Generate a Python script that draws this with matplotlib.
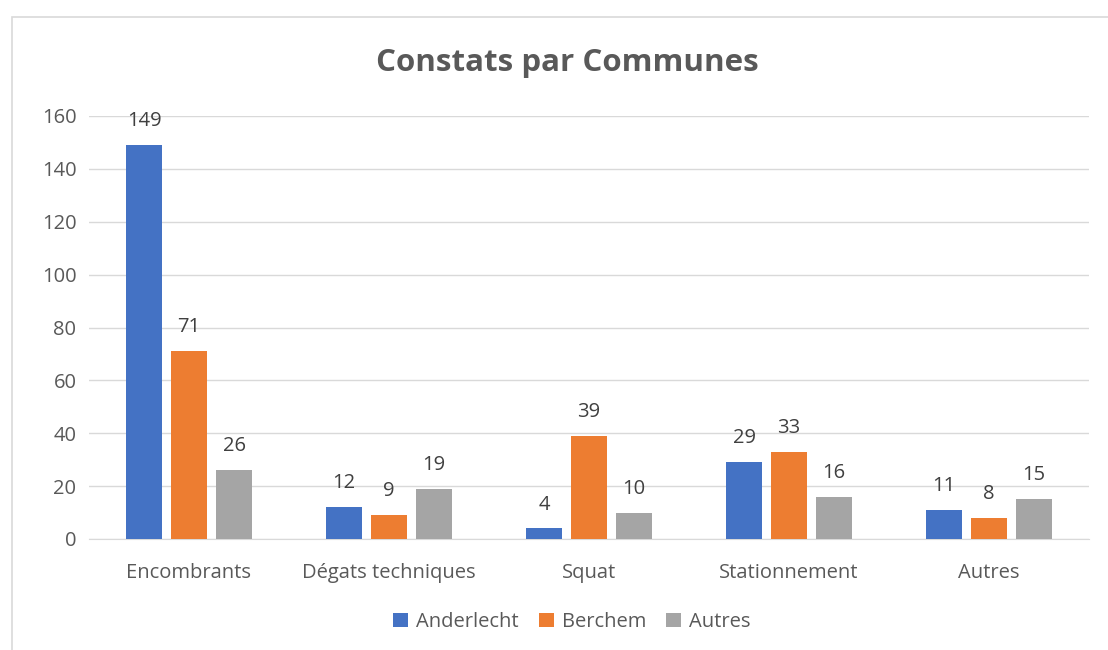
import numpy as np
import matplotlib.pyplot as plt
from matplotlib.patches import Rectangle

categories = ["Encombrants", "Dégats techniques", "Squat", "Stationnement", "Autres"]
series_names = ["Anderlecht", "Berchem", "Autres"]
anderlecht = [149, 12, 4, 29, 11]
berchem = [71, 9, 39, 33, 8]
autres = [26, 19, 10, 16, 15]
colors = ["#4472C4", "#ED7D31", "#A5A5A5"]
text_color = "#595959"

plt.rcParams["font.family"] = ["Open Sans", "DejaVu Sans"]

fig = plt.figure(figsize=(11.08, 6.5), dpi=100)
ax = fig.add_axes([89 / 1108, 1 - 539 / 650, 1000 / 1108, (539 - 116) / 650])

x = np.arange(len(categories))
width = 0.18
step = 0.225
for i, (vals, name, col) in enumerate(zip([anderlecht, berchem, autres], series_names, colors)):
    bars = ax.bar(x + (i - 1) * step, vals, width, color=col, label=name, zorder=3)
    ax.bar_label(bars, padding=10, fontsize=14.5, color="#404040")

ax.set_xlim(-0.5, len(categories) - 0.5)
ax.set_ylim(0, 160)
ax.set_yticks(range(0, 161, 20))
ax.set_xticks(x)
ax.set_xticklabels(categories)
ax.tick_params(axis="both", length=0, labelsize=14.5, labelcolor=text_color)
ax.tick_params(axis="y", pad=9)
ax.tick_params(axis="x", pad=17)
ax.grid(axis="y", color="#D9D9D9", linewidth=1, zorder=0)
for s in ["top", "right", "left"]:
    ax.spines[s].set_visible(False)
ax.spines["bottom"].set_color("#D9D9D9")

fig.text(0.512, 1 - 63 / 650, "Constats par Communes", ha="center", va="center",
         fontsize=22.5, fontweight="bold", color=text_color)

fig.legend(loc="center", bbox_to_anchor=(0.516, 1 - 622 / 650), ncol=3, frameon=False,
           fontsize=14.5, handlelength=0.75, handleheight=0.75, columnspacing=1.0,
           handletextpad=0.4, labelcolor=text_color)

fig.patches.append(Rectangle((12 / 1108, -0.1), 1.2, 1 - 17 / 650 + 0.1,
                             transform=fig.transFigure, fill=False,
                             edgecolor="#D9D9D9", linewidth=1.2))

fig.savefig("out.png", dpi=100)
